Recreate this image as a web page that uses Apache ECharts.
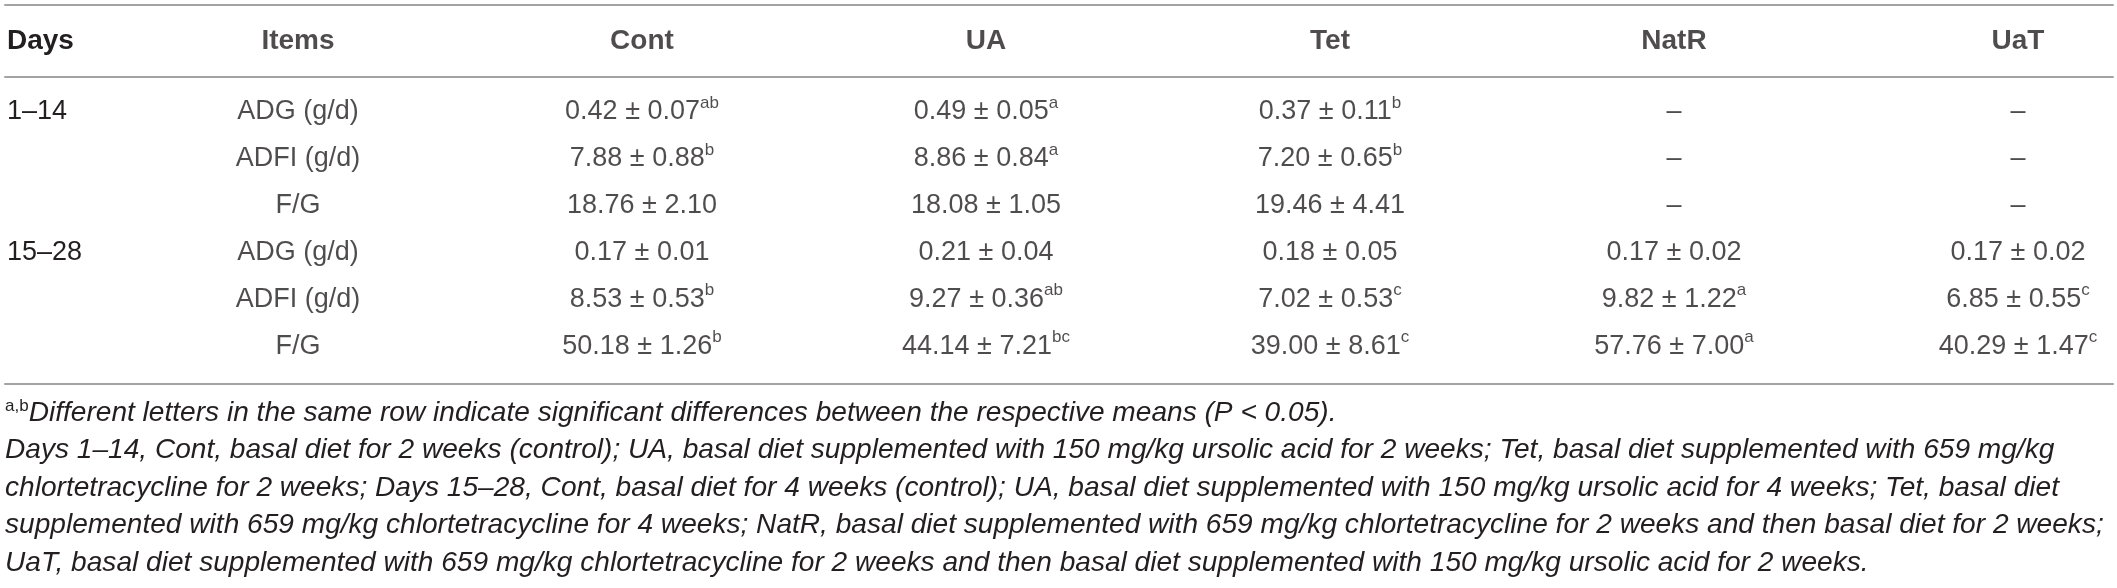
<!DOCTYPE html>
<html>
<head>
<meta charset="utf-8">
<script src="https://cdn.jsdelivr.net/npm/echarts@6/dist/echarts.min.js"></script>
<style>
  html, body { margin: 0; padding: 0; background: #fff; }
  #main { width: 2117px; height: 588px; }
</style>
</head>
<body>
<div id="main"></div>
<script>
// table content
var columns = ['Items', 'Cont', 'UA', 'Tet', 'NatR', 'UaT'];
var rowKeys = ['r1', 'r2', 'r3', 'r4', 'r5', 'r6'];
var days = ['1–14', '', '', '15–28', '', ''];
var items = ['ADG (g/d)', 'ADFI (g/d)', 'F/G', 'ADG (g/d)', 'ADFI (g/d)', 'F/G'];

var contMean = [0.42, 7.88, 18.76, 0.17, 8.53, 50.18];
var contSd = [0.07, 0.88, 2.10, 0.01, 0.53, 1.26];
var contSig = ['ab', 'b', '', '', 'b', 'b'];

var uaMean = [0.49, 8.86, 18.08, 0.21, 9.27, 44.14];
var uaSd = [0.05, 0.84, 1.05, 0.04, 0.36, 7.21];
var uaSig = ['a', 'a', '', '', 'ab', 'bc'];

var tetMean = [0.37, 7.20, 19.46, 0.18, 7.02, 39.00];
var tetSd = [0.11, 0.65, 4.41, 0.05, 0.53, 8.61];
var tetSig = ['b', 'b', '', '', 'c', 'c'];

var natrMean = [null, null, null, 0.17, 9.82, 57.76];
var natrSd = [null, null, null, 0.02, 1.22, 7.00];
var natrSig = ['', '', '', '', 'a', 'a'];

var uatMean = [null, null, null, 0.17, 6.85, 40.29];
var uatSd = [null, null, null, 0.02, 0.55, 1.47];
var uatSig = ['', '', '', '', 'c', 'c'];

var footnotes = [
  '{s|a,b}Different letters in the same row indicate significant differences between the respective means (P < 0.05).',
  'Days 1–14, Cont, basal diet for 2 weeks (control); UA, basal diet supplemented with 150 mg/kg ursolic acid for 2 weeks; Tet, basal diet supplemented with 659 mg/kg',
  'chlortetracycline for 2 weeks; Days 15–28, Cont, basal diet for 4 weeks (control); UA, basal diet supplemented with 150 mg/kg ursolic acid for 4 weeks; Tet, basal diet',
  'supplemented with 659 mg/kg chlortetracycline for 4 weeks; NatR, basal diet supplemented with 659 mg/kg chlortetracycline for 2 weeks and then basal diet for 2 weeks;',
  'UaT, basal diet supplemented with 659 mg/kg chlortetracycline for 2 weeks and then basal diet supplemented with 150 mg/kg ursolic acid for 2 weeks.'
];

var ink = '#231f20';
var rule = '#a3a3a3';

function cell(mean, sd, sig) {
  if (mean == null) return '–';
  var s = mean.toFixed(2) + ' ± ' + sd.toFixed(2);
  return sig ? s + '{s|' + sig + '}' : s;
}

var groups = [
  [contMean, contSd, contSig],
  [uaMean, uaSd, uaSig],
  [tetMean, tetSd, tetSig],
  [natrMean, natrSd, natrSig],
  [uatMean, uatSd, uatSig]
];

var bodyData = [];
rowKeys.forEach(function (k, r) {
  bodyData.push([0, r, items[r]]);
  groups.forEach(function (g, c) {
    bodyData.push([c + 1, r, cell(g[0][r], g[1][r], g[2][r])]);
  });
});
var headData = columns.map(function (c, i) { return [i, 0, c]; });

// footnote size: fit the justified lines to the table width
var ctx = document.createElement('canvas').getContext('2d');
ctx.font = 'italic 100px "Liberation Sans"';
var widest = 0;
for (var i = 1; i < 4; i++) widest = Math.max(widest, ctx.measureText(footnotes[i]).width);
var footSize = Math.round(100 * 2100 / widest * 10) / 10;

// text columns span from the Items centre to the UaT centre
var colLeft = 298;
var colRight = 99;
var dayMargin = colLeft - 7;

function ruleAxis(grid, pos) {
  return {
    gridIndex: grid, type: 'value', position: pos,
    axisLine: { show: true, onZero: false, lineStyle: { color: rule, width: 2 } },
    axisTick: { show: false }, axisLabel: { show: false }, splitLine: { show: false }
  };
}
function hiddenY(grid) {
  return { gridIndex: grid, type: 'value', show: false };
}

var chart = echarts.init(document.getElementById('main'), null, { renderer: 'canvas' });
chart.setOption({
  animation: false,
  backgroundColor: '#fff',
  textStyle: { fontFamily: '"Liberation Sans", Arial, sans-serif' },
  title: footnotes.map(function (t, i) {
    return {
      text: t,
      left: 5,
      top: 398 + i * 37.5,
      padding: 0,
      textStyle: {
        fontFamily: '"Liberation Sans", Arial, sans-serif',
        fontStyle: 'italic', fontWeight: 'normal',
        fontSize: footSize, lineHeight: 30, color: ink,
        rich: {
          s: { fontStyle: 'normal', fontSize: 17, lineHeight: 18, verticalAlign: 'top', color: ink }
        }
      }
    };
  }),
  grid: [
    { left: 5, right: 4, top: 5, height: 72 },
    { left: 5, right: 4, top: 77, bottom: 204 },
    { left: colLeft, right: colRight, top: 5, height: 72 },
    { left: colLeft, right: colRight, top: 88.5, bottom: 218.5 }
  ],
  xAxis: [
    ruleAxis(0, 'top'),
    ruleAxis(0, 'bottom'),
    ruleAxis(1, 'bottom'),
    { gridIndex: 2, type: 'category', data: columns, boundaryGap: false, show: false },
    { gridIndex: 3, type: 'category', data: columns, boundaryGap: false, show: false }
  ],
  yAxis: [
    hiddenY(0),
    hiddenY(1),
    {
      gridIndex: 2, type: 'category', data: ['Days'],
      axisLine: { show: false }, axisTick: { show: false }, splitLine: { show: false },
      axisLabel: { align: 'left', margin: dayMargin, fontSize: 28, fontWeight: 'bold', color: ink }
    },
    {
      gridIndex: 3, type: 'category', data: rowKeys, inverse: true,
      axisLine: { show: false }, axisTick: { show: false }, splitLine: { show: false },
      axisLabel: {
        interval: 0, align: 'left', margin: dayMargin, fontSize: 27, color: ink,
        formatter: function (v, idx) { return days[idx]; }
      }
    }
  ],
  series: [
    {
      type: 'scatter', xAxisIndex: 3, yAxisIndex: 2, silent: true,
      symbolSize: 0, data: headData,
      label: {
        show: true, position: 'inside', color: ink, fontSize: 28, fontWeight: 'bold',
        formatter: function (p) { return p.data[2]; }
      }
    },
    {
      type: 'scatter', xAxisIndex: 4, yAxisIndex: 3, silent: true,
      symbolSize: 0, data: bodyData,
      label: {
        show: true, position: 'inside', color: ink, fontSize: 27, lineHeight: 34,
        formatter: function (p) { return p.data[2]; },
        rich: {
          s: { fontSize: 17, lineHeight: 19, verticalAlign: 'top', color: ink }
        }
      }
    }
  ]
});
</script>
</body>
</html>
